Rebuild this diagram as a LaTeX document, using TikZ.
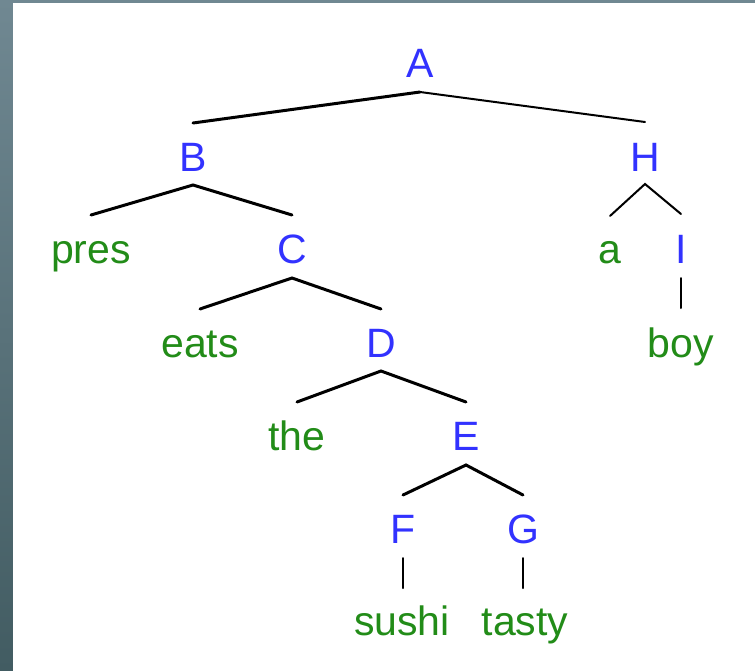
\documentclass[tikz,border=0pt]{standalone}
\usepackage{fontspec}
\setmainfont{Liberation Sans}
\definecolor{nodeblue}{RGB}{50,50,255}
\definecolor{leafgreen}{RGB}{34,140,24}
\definecolor{bgtop}{RGB}{112,136,146}
\definecolor{bgbot}{RGB}{66,92,98}
\tikzset{
  lbl/.style={anchor=base, inner sep=0pt, font=\fontsize{41}{45}\selectfont},
  cat/.style={lbl, text=nodeblue},
  word/.style={lbl, text=leafgreen},
  thick edge/.style={line width=3pt, line cap=round, black},
  thin edge/.style={line width=2pt, line cap=round, black}
}
\begin{document}
\begin{tikzpicture}[x=1pt,y=-1pt]
\useasboundingbox (0,0) rectangle (755,670);
\shade[top color=bgtop, bottom color=bgbot] (0,0) rectangle (755,670);
\fill[white] (13,3) rectangle (756,671);

% labels
\node[cat] (A) at (420,77) {A};
\node[cat] (B) at (193,171) {B};
\node[cat] (H) at (645,171) {H};
\node[word] (pres) at (91,263) {pres};
\node[cat] (C) at (292,263) {C};
\node[word] (a) at (610,263) {a};
\node[cat] (I) at (681,263) {I};
\node[word] (eats) at (200,357) {eats};
\node[cat] (D) at (381,357) {D};
\node[word] (boy) at (681,357) {boy};
\node[word] (the) at (297,450) {the};
\node[cat] (E) at (466,450) {E};
\node[cat] (F) at (403,543) {F};
\node[cat] (G) at (523,543) {G};
\node[word] (sushi) at (402,635) {sushi};
\node[word] (tasty) at (525,635) {tasty};

% connectors
\draw[thick edge] ([yshift=48pt]B.base) -- ([yshift=-15pt]A.base);
\draw[thin edge] ([yshift=-15pt]A.base) -- ([yshift=49pt]H.base);
\draw[thick edge] ([yshift=48pt]pres.base) -- ([yshift=-14pt]B.base) -- ([yshift=48pt]C.base);
\draw[thin edge] ([yshift=47pt]a.base) -- ([yshift=-13pt]H.base) -- ([yshift=49pt]I.base);
\draw[thick edge] ([yshift=48pt]eats.base) -- ([yshift=-15pt]C.base) -- ([yshift=48pt]D.base);
\draw[thick edge] ([yshift=48pt]the.base) -- ([yshift=-14pt]D.base) -- ([yshift=48pt]E.base);
\draw[thick edge] ([yshift=48pt]F.base) -- ([yshift=-15pt]E.base) -- ([yshift=48pt]G.base);
\draw[thin edge] ([yshift=-15pt]I.base) -- ([yshift=49pt]I.base |- boy.base);
\draw[thin edge] ([yshift=-15pt]F.base) -- ([yshift=47pt]F.base |- sushi.base);
\draw[thin edge] ([yshift=-15pt]G.base) -- ([yshift=47pt]G.base |- tasty.base);
\end{tikzpicture}
\end{document}
